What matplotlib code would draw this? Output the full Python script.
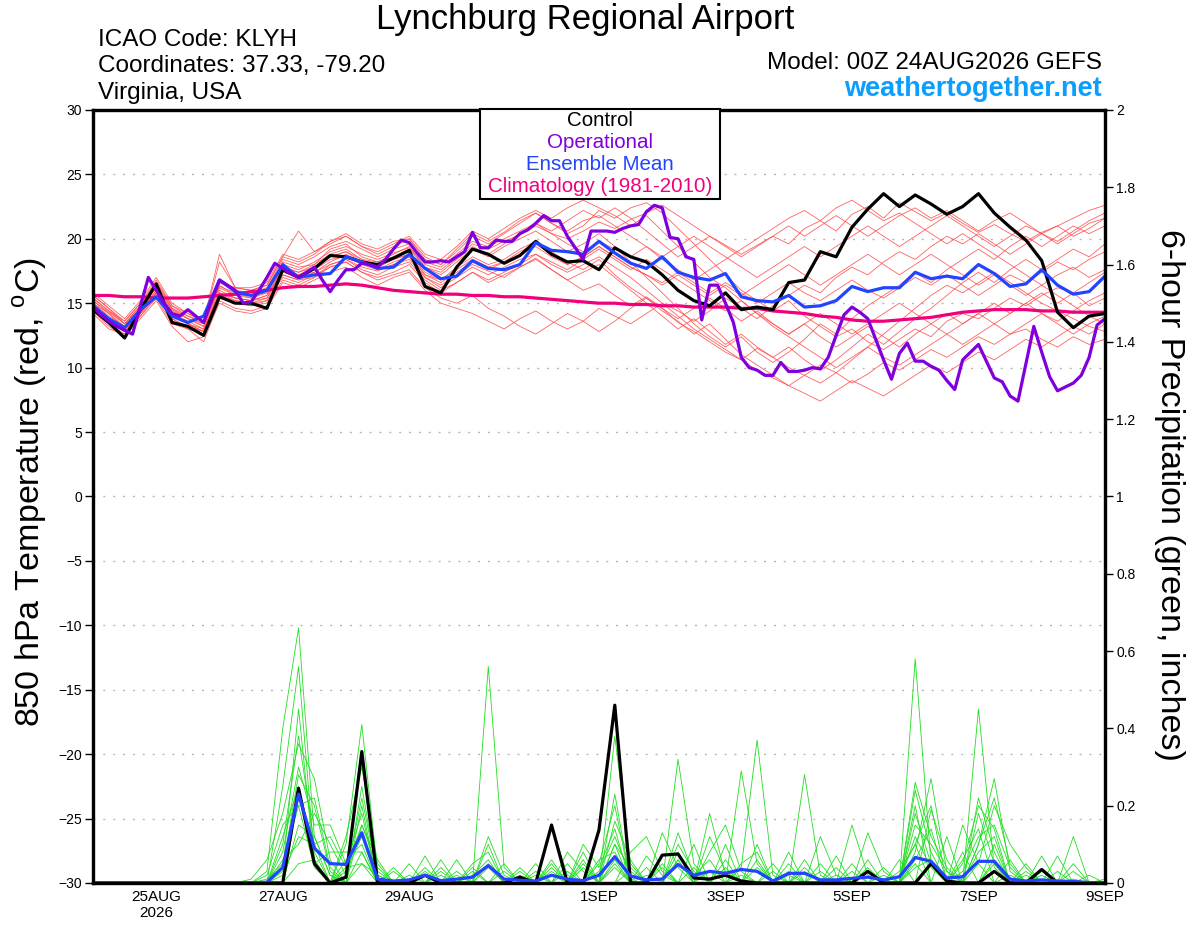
import numpy as np
import matplotlib
matplotlib.use('Agg')
import matplotlib.pyplot as plt
from matplotlib.patches import Rectangle

plt.rcParams['font.family'] = ['Liberation Sans', 'DejaVu Sans']
plt.rcParams['mathtext.fontset'] = 'custom'
plt.rcParams['mathtext.rm'] = 'Liberation Sans'

# --- data: 6-hourly from 00Z 24AUG2026 (65 steps), operational 3-hourly (129 steps)
tick_days = [1, 3, 5, 8, 10, 12, 14, 16]
tick_labels = ['25AUG\n2026', '27AUG', '29AUG', '1SEP', '3SEP', '5SEP', '7SEP', '9SEP']

control_temp = [14.5, 13.5, 12.3, 14.5, 16.5, 13.5, 13.2, 12.5, 15.5, 15.0, 15.0, 14.6,
                17.6, 17.0, 17.7, 18.7, 18.6, 18.2, 18.0, 18.5, 19.1, 16.3, 15.8,
                17.8, 19.2, 18.8, 18.1, 18.7, 19.8, 18.8, 18.2, 18.3, 17.6,
                19.3, 18.6, 18.2, 17.2, 16.0, 15.2, 14.8, 15.8, 14.5, 14.7,
                14.5, 16.6, 16.8, 19.0, 18.6, 20.9, 22.3, 23.5, 22.5, 23.4,
                22.7, 21.9, 22.5, 23.5, 22.0, 20.9, 19.9, 18.3, 14.3, 13.1, 14.0, 14.2]

mean_temp = [14.8, 13.8, 13.1, 14.5, 15.5, 14.0, 13.5, 14.0, 16.8, 15.9, 15.6, 16.0,
             18.0, 17.0, 17.2, 17.3, 18.6, 18.2, 17.7, 17.8, 18.8, 17.7, 16.9,
             17.1, 18.3, 17.7, 17.6, 18.0, 19.7, 19.1, 19.0, 18.8, 19.8,
             18.9, 18.1, 17.7, 18.6, 17.4, 17.0, 16.8, 17.3, 15.5, 15.2,
             15.1, 15.6, 14.7, 14.8, 15.2, 16.3, 15.9, 16.2, 16.2, 17.4,
             16.9, 17.1, 16.9, 18.0, 17.3, 16.3, 16.5, 17.6, 16.4, 15.7, 15.9, 17.1]

clim_temp = [15.6, 15.6, 15.5, 15.5, 15.4, 15.4, 15.4, 15.5, 15.6, 15.7, 15.9, 16.0,
             16.2, 16.3, 16.3, 16.4, 16.5, 16.4, 16.2, 16.0, 15.9, 15.8, 15.7,
             15.7, 15.6, 15.6, 15.5, 15.5, 15.4, 15.3, 15.2, 15.1, 15.0, 15.0, 14.9, 14.9,
             14.8, 14.8, 14.7, 14.7, 14.7, 14.6, 14.6, 14.4,
             14.3, 14.2, 14.0, 13.9, 13.7, 13.6, 13.6, 13.7, 13.8, 13.9, 14.1, 14.3,
             14.4, 14.5, 14.5, 14.5, 14.4, 14.4, 14.3, 14.3, 14.3]

oper_temp = [14.7, 14.1, 13.6, 13.2, 12.9, 12.6, 14.8, 17.0,
             16.0, 15.0, 14.2, 14.0, 14.5, 14.0, 13.5, 15.2,
             16.8, 16.4, 16.0, 15.0, 15.1, 16.0, 17.0, 18.1,
             17.7, 17.3, 17.0, 17.4, 17.8, 16.8, 15.9, 16.8,
             17.6, 17.6, 18.1, 18.0, 17.8, 18.4, 19.2, 19.9,
             19.7, 18.9, 18.2, 18.2, 18.3, 18.2, 18.6, 19.0,
             20.5, 19.3, 19.3, 19.9, 19.8, 19.8, 20.4, 20.7,
             21.2, 21.8, 21.4, 21.4, 20.2, 19.3, 18.4, 20.6,
             20.6, 20.6, 20.5, 20.8, 21.0, 21.1, 22.1, 22.6,
             22.4, 20.1, 20.0, 18.6, 18.4, 13.7, 16.4, 16.4,
             15.0, 13.5, 10.8, 10.0, 9.8, 9.4, 9.4, 10.4,
             9.7, 9.7, 9.8, 10.0, 9.9, 10.8, 12.5, 14.1,
             14.7, 14.3, 13.8, 12.2, 10.6, 9.1, 11.1, 11.9,
             10.5, 10.5, 10.1, 9.8, 9.0, 8.3, 10.6, 11.2,
             11.8, 10.5, 9.2, 8.9, 7.8, 7.4, 10.3, 13.2,
             11.2, 9.3, 8.2, 8.5, 8.8, 9.4, 10.8, 13.3,
             13.8]

member_temp = [
    [15.2, 14.3, 13.4, 14.8, 16.2, 14.5, 13.8, 13.4, 16.3, 15.8, 15.4, 16.0,
     18.0, 17.6, 18.2, 19.0, 19.4, 18.8, 18.4, 18.9, 19.3, 18.0, 17.6,
     18.5, 19.6, 19.2, 19.8, 20.3, 21.0, 20.4, 20.0, 20.6, 21.3, 20.8, 21.5, 22.0, 22.6, 21.8, 21.0, 20.2, 19.5, 18.8, 19.5,
     20.2, 19.6, 20.8, 21.4, 20.6, 21.9, 22.5, 21.6, 22.8, 22.1, 21.4, 22.0, 21.2, 20.5, 21.1, 20.4, 19.8, 20.5, 21.0, 20.2, 20.8, 21.6],
    [14.6, 13.6, 12.8, 14.0, 15.6, 13.6, 13.2, 12.8, 15.6, 15.0, 14.8, 15.0,
     17.2, 16.8, 17.0, 18.0, 18.4, 17.8, 17.5, 18.0, 18.6, 17.0, 16.4,
     17.2, 18.0, 17.5, 17.0, 17.8, 18.5, 17.6, 16.8, 16.0, 16.5, 15.6, 14.8, 15.5, 14.6, 13.5, 12.8, 12.0, 11.2, 10.6, 11.5,
     10.8, 10.0, 9.4, 10.2, 9.6, 8.8, 9.5, 10.4, 9.8, 10.6, 11.4, 10.8, 11.6, 12.4, 11.8, 12.6, 13.0, 12.2, 11.6, 12.4, 11.8, 12.2],
    [15.8, 14.8, 13.8, 15.2, 17.0, 15.0, 14.2, 13.6, 18.8, 16.2, 16.0, 16.4,
     18.6, 20.6, 19.0, 19.6, 20.2, 19.4, 18.8, 19.4, 20.0, 18.4, 18.0,
     19.2, 20.4, 19.8, 20.5, 21.4, 22.0, 21.2, 20.4, 21.0, 22.2, 21.6, 22.4, 22.8, 22.0, 20.8, 19.6, 18.4, 17.2, 16.0, 15.2,
     14.4, 15.2, 14.0, 13.2, 12.4, 13.0, 12.0, 11.4, 12.2, 13.0, 12.4, 13.6, 14.2, 13.8, 14.6, 15.4, 14.8, 15.6, 16.2, 15.8, 16.6, 17.4],
    [14.4, 13.2, 12.4, 13.8, 15.2, 13.2, 12.0, 12.4, 15.0, 14.4, 14.2, 14.6,
     16.6, 16.2, 16.8, 17.4, 17.8, 17.0, 16.4, 17.0, 17.4, 16.0, 15.0,
     14.6, 14.2, 13.6, 13.0, 13.8, 14.4, 13.6, 13.0, 13.6, 14.6, 14.0, 13.4, 14.2, 15.0, 14.4, 13.6, 14.4, 15.4, 14.6, 13.8,
     14.8, 15.6, 16.4, 15.8, 17.0, 17.8, 17.2, 18.2, 19.0, 18.4, 19.4, 20.2, 19.6, 20.4, 19.6, 18.8, 19.6, 20.4, 19.8, 20.6, 21.4, 22.0],
    [15.0, 14.0, 13.2, 14.4, 16.0, 14.2, 13.6, 13.0, 16.0, 15.4, 15.2, 15.6,
     17.8, 17.4, 17.8, 18.6, 19.0, 18.2, 17.8, 18.4, 18.8, 17.4, 16.8,
     17.8, 18.6, 18.0, 18.4, 19.2, 19.8, 19.0, 18.2, 17.6, 18.4, 17.2, 16.2, 15.4, 14.4, 13.6, 12.6, 13.4, 12.2, 11.0, 10.2,
     9.4, 8.6, 8.0, 7.4, 8.2, 9.0, 8.4, 7.8, 8.6, 9.4, 10.2, 9.6, 10.4, 11.2, 10.6, 11.4, 12.2, 11.6, 12.4, 13.2, 12.6, 13.4],
    [15.4, 14.4, 13.6, 15.0, 16.6, 14.8, 14.0, 13.6, 16.6, 16.0, 15.8, 16.2,
     18.4, 18.0, 18.6, 19.4, 19.8, 19.2, 18.6, 19.2, 19.6, 18.2, 17.8,
     18.8, 19.8, 19.4, 20.0, 20.6, 21.2, 20.4, 19.6, 19.0, 19.8, 19.2, 18.6, 19.4, 18.4, 17.6, 16.8, 17.6, 18.4, 19.2, 20.0,
     20.8, 21.6, 22.2, 21.4, 22.4, 23.0, 22.2, 21.4, 22.0, 21.2, 20.4, 19.6, 20.4, 19.6, 18.8, 18.0, 17.2, 16.4, 15.6, 14.8, 14.0, 13.4],
    [14.8, 13.8, 13.0, 14.4, 15.8, 14.0, 13.4, 13.0, 15.8, 15.2, 15.0, 15.4,
     17.4, 17.0, 17.6, 18.4, 18.6, 18.0, 17.6, 18.2, 18.6, 17.2, 16.8,
     17.6, 18.4, 17.8, 18.2, 18.8, 19.4, 18.6, 18.0, 18.6, 19.4, 18.6, 17.8, 17.2, 16.6, 17.4, 16.6, 15.8, 16.6, 15.8, 15.0,
     15.8, 16.6, 15.8, 15.2, 16.0, 16.8, 16.0, 15.4, 16.2, 17.0, 16.4, 17.2, 16.4, 15.6, 16.4, 17.2, 16.6, 17.4, 18.2, 17.6, 18.4, 19.0],
    [15.6, 14.6, 13.4, 14.6, 16.4, 14.6, 13.8, 13.2, 16.4, 15.6, 15.6, 15.8,
     18.2, 17.8, 18.0, 19.2, 19.6, 18.6, 18.2, 18.8, 19.4, 17.8, 17.2,
     18.2, 19.2, 18.6, 19.4, 20.0, 20.6, 19.8, 19.0, 19.6, 20.4, 19.4, 18.2, 17.0, 15.8, 14.6, 13.4, 12.4, 11.6, 12.4, 11.2,
     10.4, 11.2, 12.2, 13.4, 12.6, 13.8, 14.8, 15.6, 16.4, 17.4, 16.6, 17.6, 18.4, 19.2, 18.4, 19.4, 20.2, 19.4, 20.2, 21.0, 20.4, 21.0],
    [14.2, 13.0, 12.6, 14.0, 15.4, 13.4, 13.0, 12.0, 15.2, 14.6, 14.4, 14.8,
     16.8, 16.4, 17.0, 17.8, 18.2, 17.4, 16.8, 17.2, 17.6, 16.2, 15.4,
     15.0, 15.6, 14.6, 14.0, 13.2, 12.6, 13.4, 14.2, 13.6, 12.8, 13.6, 14.6, 15.4, 14.6, 13.8, 14.6, 15.4, 14.6, 13.6, 14.4,
     13.4, 12.6, 13.4, 12.4, 11.6, 12.4, 13.2, 12.4, 11.6, 12.6, 13.4, 14.2, 13.4, 14.2, 15.0, 14.2, 15.0, 15.8, 15.0, 15.8, 14.8, 15.4],
    [15.0, 14.2, 13.2, 14.6, 16.2, 14.4, 13.8, 13.2, 16.2, 15.6, 15.4, 15.8,
     17.8, 17.4, 18.0, 18.8, 19.2, 18.4, 18.2, 18.6, 19.2, 17.8, 17.4,
     18.4, 19.4, 18.8, 19.6, 20.4, 21.2, 20.6, 21.4, 22.2, 21.6, 22.4, 21.6, 20.6, 19.6, 18.6, 19.4, 20.2, 19.4, 18.6, 19.4,
     20.2, 21.0, 20.2, 21.0, 21.8, 21.0, 20.2, 21.0, 21.8, 22.4, 21.6, 22.2, 21.4, 20.6, 21.4, 22.0, 21.2, 20.4, 21.0, 21.6, 22.2, 22.6],
    [15.2, 14.2, 13.0, 14.2, 15.8, 14.0, 13.4, 12.8, 15.8, 15.4, 15.2, 15.4,
     17.6, 17.2, 17.4, 18.2, 18.8, 18.2, 17.6, 18.0, 18.4, 17.0, 16.2,
     17.0, 17.8, 17.2, 17.8, 18.4, 18.8, 18.0, 17.4, 18.0, 18.6, 17.8, 17.0, 16.0, 15.0, 14.0, 13.0, 12.2, 11.4, 10.6, 9.8,
     9.2, 8.6, 9.4, 8.8, 9.6, 10.6, 11.6, 12.6, 13.6, 14.6, 15.6, 16.4, 15.8, 16.6, 17.4, 16.6, 15.8, 15.0, 14.4, 13.8, 13.2, 12.8],
    [14.6, 13.4, 12.6, 14.2, 15.6, 13.8, 13.2, 12.8, 15.6, 15.0, 14.8, 15.2,
     17.2, 16.8, 17.4, 18.0, 18.4, 17.6, 17.2, 17.8, 18.2, 16.8, 16.0,
     16.6, 17.4, 16.8, 17.4, 18.0, 18.8, 18.2, 17.6, 18.4, 19.2, 18.4, 17.6, 18.4, 17.6, 16.8, 16.0, 15.2, 14.4, 15.2, 14.2,
     13.4, 12.6, 13.4, 14.2, 13.4, 12.6, 13.4, 14.2, 15.0, 14.2, 13.4, 12.6, 11.8, 12.6, 13.4, 12.6, 13.4, 14.2, 13.6, 14.4, 15.2, 15.8],
    [15.4, 14.4, 13.4, 14.8, 16.6, 14.6, 14.0, 13.4, 16.6, 16.2, 16.0, 16.4,
     18.6, 18.2, 18.8, 19.8, 20.2, 19.4, 19.0, 19.6, 20.2, 18.8, 18.4,
     19.4, 20.6, 20.0, 20.8, 21.6, 22.2, 21.6, 22.4, 23.0, 22.4, 21.8, 21.0, 21.8, 20.6, 19.4, 18.2, 17.0, 16.2, 15.2, 14.2,
     13.2, 12.4, 11.6, 10.8, 10.0, 10.8, 11.6, 10.8, 10.2, 11.0, 11.8, 12.6, 13.4, 14.2, 13.4, 14.2, 15.0, 14.2, 13.4, 12.6, 13.4, 14.0],
    [15.6, 14.6, 13.6, 15.0, 16.8, 14.8, 14.2, 13.6, 18.2, 16.2, 16.2, 16.6,
     18.8, 18.4, 19.0, 19.8, 20.4, 19.6, 19.2, 19.8, 20.0, 18.6, 18.0,
     19.0, 20.2, 19.6, 20.4, 21.2, 22.0, 21.2, 20.6, 21.4, 21.8, 21.0, 20.2, 19.4, 18.6, 19.4, 20.2, 19.4, 18.6, 17.8, 17.0,
     17.8, 18.6, 19.4, 18.6, 19.4, 20.2, 21.0, 20.2, 19.4, 20.2, 21.0, 21.8, 21.0, 20.2, 19.4, 20.2, 21.0, 20.4, 19.6, 20.4, 21.2, 21.6],
    [14.8, 13.8, 12.8, 14.2, 15.8, 13.8, 13.0, 12.6, 15.6, 15.2, 15.0, 15.2,
     17.0, 16.6, 17.2, 17.8, 18.2, 17.4, 17.0, 17.4, 18.0, 16.6, 15.8,
     16.6, 17.4, 16.6, 17.2, 17.8, 18.4, 17.6, 16.8, 17.4, 18.0, 17.0, 16.0, 15.0, 14.0, 13.0, 13.8, 12.8, 11.8, 12.6, 11.6,
     10.8, 11.6, 10.6, 9.8, 10.6, 11.6, 12.6, 11.8, 12.8, 13.8, 14.6, 15.6, 16.6, 17.4, 16.6, 17.6, 18.4, 17.6, 18.4, 19.2, 18.6, 19.6],
    [15.0, 13.8, 12.8, 14.4, 16.0, 14.2, 13.4, 12.8, 15.8, 15.4, 15.2, 15.6,
     17.6, 17.2, 17.8, 18.6, 19.0, 18.4, 17.8, 18.4, 18.8, 17.2, 16.6,
     17.4, 18.2, 17.6, 18.2, 19.0, 19.6, 18.8, 18.0, 18.6, 19.4, 18.6, 17.8, 17.2, 16.4, 17.2, 16.4, 15.6, 16.4, 15.6, 16.4,
     17.2, 18.0, 17.2, 16.4, 17.2, 18.0, 18.8, 18.0, 17.2, 18.0, 18.8, 18.0, 17.2, 16.4, 17.2, 16.4, 15.6, 16.4, 17.2, 17.8, 17.0, 17.6],
]

# 6-hour precipitation (inches); members as {step: value}, zero elsewhere
control_precip = {13: 0.245, 14: 0.05, 16: 0.015, 17: 0.34, 21: 0.02, 27: 0.015, 29: 0.15,
                  32: 0.137, 33: 0.46, 36: 0.072, 37: 0.075, 38: 0.013, 39: 0.01, 40: 0.02,
                  41: 0.005, 49: 0.03, 53: 0.05, 54: 0.005, 57: 0.03, 60: 0.035}

mean_precip = [0, 0, 0, 0, 0, 0, 0, 0, 0, 0, 0, 0.002,
               0.04, 0.23, 0.09, 0.05, 0.048, 0.13, 0.01, 0.005, 0.008, 0.02, 0.006,
               0.01, 0.015, 0.045, 0.01, 0.007, 0.005, 0.02, 0.01, 0.006, 0.02,
               0.068, 0.018, 0.008, 0.01, 0.048, 0.02, 0.03, 0.025, 0.035, 0.03,
               0.005, 0.025, 0.025, 0.008, 0.008, 0.012, 0.015, 0.008, 0.016, 0.066,
               0.056, 0.013, 0.016, 0.056, 0.056, 0.01, 0.005, 0.008, 0.005, 0.004, 0.001, 0.0]

member_precip = [
    {11: 0.03, 12: 0.40, 13: 0.66, 14: 0.12, 15: 0.02, 17: 0.08, 25: 0.05, 29: 0.03, 33: 0.1, 37: 0.06,
     41: 0.04, 42: 0.37, 43: 0.02, 52: 0.08, 53: 0.27, 54: 0.03, 57: 0.05, 60: 0.02},
    {12: 0.25, 13: 0.56, 14: 0.06, 16: 0.1, 17: 0.41, 18: 0.03, 22: 0.06, 25: 0.56, 26: 0.04, 31: 0.08,
     33: 0.38, 34: 0.05, 39: 0.12, 40: 0.03, 45: 0.28, 46: 0.02, 52: 0.58, 53: 0.05, 56: 0.1, 57: 0.27,
     58: 0.03, 62: 0.12},
    {10: 0.01, 11: 0.06, 12: 0.18, 13: 0.36, 14: 0.27, 15: 0.06, 17: 0.25, 18: 0.01, 21: 0.07, 24: 0.04,
     29: 0.15, 30: 0.02, 33: 0.23, 35: 0.04, 37: 0.32, 38: 0.05, 44: 0.08, 48: 0.15, 49: 0.02, 52: 0.24,
     53: 0.08, 56: 0.45, 57: 0.04, 61: 0.07},
    {12: 0.08, 13: 0.30, 14: 0.15, 15: 0.15, 16: 0.05, 17: 0.18, 19: 0.04, 23: 0.06, 27: 0.03, 31: 0.1,
     32: 0.04, 33: 0.14, 36: 0.13, 37: 0.04, 41: 0.29, 42: 0.05, 47: 0.04, 49: 0.13, 50: 0.03, 52: 0.2,
     55: 0.15, 56: 0.05, 57: 0.2, 58: 0.1, 59: 0.04},
    {12: 0.12, 13: 0.25, 14: 0.08, 16: 0.03, 17: 0.12, 20: 0.05, 22: 0.04, 25: 0.12, 26: 0.02, 28: 0.05,
     30: 0.08, 31: 0.03, 34: 0.08, 35: 0.12, 36: 0.03, 40: 0.1, 43: 0.05, 46: 0.12, 47: 0.02, 51: 0.06,
     53: 0.19, 54: 0.06, 56: 0.22, 57: 0.08, 63: 0.02},
    {11: 0.02, 12: 0.15, 13: 0.2, 14: 0.22, 15: 0.04, 17: 0.15, 18: 0.04, 24: 0.05, 25: 0.08, 29: 0.05,
     32: 0.06, 33: 0.08, 37: 0.13, 38: 0.02, 39: 0.06, 42: 0.1, 45: 0.06, 50: 0.04, 52: 0.12, 53: 0.04,
     55: 0.06, 56: 0.14, 58: 0.06, 60: 0.07, 62: 0.03},
    {12: 0.03, 13: 0.45, 14: 0.05, 15: 0.08, 16: 0.08, 17: 0.08, 21: 0.03, 23: 0.03, 26: 0.05, 30: 0.05,
     33: 0.06, 36: 0.05, 38: 0.04, 40: 0.06, 44: 0.03, 48: 0.05, 51: 0.03, 52: 0.1, 54: 0.12, 56: 0.08,
     57: 0.12, 59: 0.05, 64: 0.01},
    {12: 0.06, 13: 0.1, 14: 0.18, 15: 0.1, 16: 0.02, 17: 0.22, 18: 0.02, 22: 0.02, 27: 0.04, 29: 0.04,
     31: 0.06, 34: 0.03, 37: 0.08, 39: 0.18, 40: 0.02, 43: 0.03, 47: 0.07, 52: 0.06, 53: 0.14, 55: 0.03,
     56: 0.12, 57: 0.15, 58: 0.04},
    {13: 0.15, 14: 0.12, 15: 0.02, 17: 0.05, 19: 0.03, 24: 0.02, 25: 0.06, 28: 0.03, 32: 0.03, 33: 0.12,
     34: 0.02, 38: 0.1, 41: 0.05, 42: 0.08, 46: 0.05, 49: 0.04, 52: 0.15, 53: 0.1, 54: 0.03, 57: 0.06,
     61: 0.03},
    {11: 0.01, 12: 0.05, 13: 0.2, 14: 0.04, 16: 0.06, 17: 0.1, 20: 0.02, 26: 0.03, 29: 0.06, 31: 0.04,
     33: 0.05, 35: 0.07, 36: 0.02, 40: 0.04, 42: 0.06, 44: 0.02, 48: 0.03, 50: 0.02, 52: 0.04, 53: 0.06,
     56: 0.05, 58: 0.02, 62: 0.01},
    {12: 0.02, 13: 0.12, 14: 0.1, 15: 0.12, 16: 0.04, 17: 0.05, 18: 0.02, 23: 0.02, 25: 0.1, 27: 0.02,
     33: 0.1, 34: 0.04, 37: 0.06, 39: 0.03, 45: 0.03, 52: 0.18, 53: 0.05, 55: 0.08, 57: 0.1, 60: 0.03},
    {13: 0.05, 14: 0.06, 16: 0.04, 17: 0.15, 18: 0.06, 21: 0.04, 29: 0.02, 31: 0.05, 33: 0.04, 36: 0.04,
     41: 0.02, 45: 0.04, 47: 0.02, 52: 0.05, 56: 0.18, 57: 0.05, 59: 0.02},
    {12: 0.1, 13: 0.38, 14: 0.1, 16: 0.12, 17: 0.3, 18: 0.05, 25: 0.04, 30: 0.03, 33: 0.16, 34: 0.06,
     37: 0.1, 38: 0.03, 42: 0.04, 46: 0.03, 52: 0.26, 53: 0.12, 54: 0.04, 56: 0.1, 57: 0.22, 58: 0.05,
     62: 0.05},
    {12: 0.04, 13: 0.28, 14: 0.2, 15: 0.03, 17: 0.2, 22: 0.03, 24: 0.03, 28: 0.02, 32: 0.05, 33: 0.2,
     35: 0.02, 39: 0.08, 40: 0.15, 41: 0.03, 44: 0.05, 49: 0.06, 51: 0.02, 52: 0.1, 53: 0.2, 55: 0.05,
     56: 0.2, 57: 0.14, 59: 0.03},
]

n6 = 65
t6 = np.arange(n6) * 0.25
t3 = np.arange(len(oper_temp)) * 0.125
for m in member_temp:
    assert len(m) == n6, len(m)


def sparse_to_series(d):
    arr = np.zeros(n6)
    for k, v in d.items():
        arr[k] = v
    return arr


red = '#ff4646'
green = '#22dd22'
blue = '#2244ff'
purple = '#7f00dd'
magenta = '#f0007c'
lw_main = 2.3

fig = plt.figure(figsize=(12, 9.27), dpi=100)
ax = fig.add_axes([0.0775, 0.0475, 0.8433, 0.8339])
ax2 = ax.twinx()

# temperature (left axis)
for m in member_temp:
    ax.plot(t6, m, color=red, lw=0.6, alpha=0.85)
ax.plot(t6, clim_temp, color=magenta, lw=lw_main)
ax.plot(t6, control_temp, color='black', lw=lw_main)
ax.plot(t6, mean_temp, color=blue, lw=lw_main)
ax.plot(t3, oper_temp, color=purple, lw=lw_main)

# precipitation (right axis)
for d in member_precip:
    ax2.plot(t6, sparse_to_series(d), color=green, lw=0.6)
ax2.plot(t6, sparse_to_series(control_precip), color='black', lw=lw_main)
ax2.plot(t6, mean_precip, color=blue, lw=lw_main)

ax.set_xlim(0, 16)
ax.set_ylim(-30, 30)
ax.set_yticks(range(-30, 31, 5))
ax.grid(axis='y', color='#b4b4b4', lw=1, ls=(0, (1.4, 5.7)))
ax.set_xticks(tick_days)
ax.set_xticklabels(tick_labels)
ax.tick_params(axis='x', length=0, labelsize=11, pad=5)
ax.tick_params(axis='y', direction='out', length=6, width=1, labelsize=10, pad=2)

ax2.set_ylim(0, 2)
ptk = np.round(np.arange(0, 2.01, 0.2), 1)
ax2.set_yticks(ptk)
ax2.set_yticklabels([f'{v:g}' for v in ptk])
ax2.tick_params(axis='y', direction='out', length=6, width=1, labelsize=10, pad=2)

for a in (ax, ax2):
    for s in a.spines.values():
        s.set_linewidth(2.3)

# axis titles
fig.text(30 / 1200, 1 - 492 / 927, '850 hPa Temperature (red, $^\\mathrm{o}$C)',
         rotation=90, ha='center', va='center', fontsize=24.5)
fig.text(1170 / 1200, 1 - 495 / 927, '6-hour Precipitation (green, inches)',
         rotation=270, ha='center', va='center', fontsize=24.5)

# header
fig.text(585 / 1200, 1 - 19 / 927, 'Lynchburg Regional Airport', ha='center', va='center', fontsize=25)
fig.text(98 / 1200, 1 - 40 / 927, 'ICAO Code: KLYH', ha='left', va='center', fontsize=17.5)
fig.text(98 / 1200, 1 - 66 / 927, 'Coordinates: 37.33, -79.20', ha='left', va='center', fontsize=17.5)
fig.text(98 / 1200, 1 - 93 / 927, 'Virginia, USA', ha='left', va='center', fontsize=17.5)
fig.text(1102 / 1200, 1 - 63 / 927, 'Model: 00Z 24AUG2026 GEFS', ha='right', va='center', fontsize=17.5)
fig.text(1102 / 1200, 1 - 89 / 927, 'weathertogether.net', ha='right', va='center', fontsize=19.5,
         fontweight='bold', color='#0a9eff')

# legend box
box = Rectangle((480 / 1200, 1 - 199 / 927), 240 / 1200, 90 / 927, transform=fig.transFigure,
                facecolor='white', edgecolor='black', lw=1.5, zorder=5)
fig.add_artist(box)
leg_items = [('Control', 'black'), ('Operational', purple), ('Ensemble Mean', blue),
             ('Climatology (1981-2010)', magenta)]
for i, (txt, col) in enumerate(leg_items):
    fig.text(0.5, 1 - (121 + i * 21.7) / 927, txt, ha='center', va='center', fontsize=14.8,
             color=col, zorder=6)

fig.savefig('out.png', dpi=100)
